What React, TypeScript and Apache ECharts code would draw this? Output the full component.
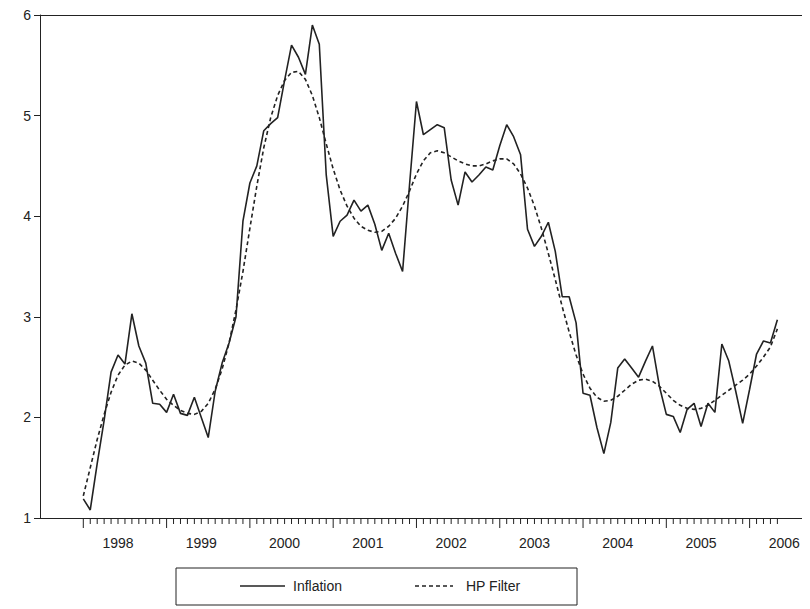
import React, { useEffect, useRef } from "react";
import * as echarts from "echarts";

const years = ["1998", "1999", "2000", "2001", "2002", "2003", "2004", "2005", "2006"];
const inflation = [1.19, 1.08, 1.54, 1.97, 2.45, 2.62, 2.53, 3.03, 2.71, 2.54, 2.14, 2.13, 2.05, 2.23, 2.04, 2.02, 2.2, 2.0, 1.8, 2.26, 2.54, 2.74, 3.0, 3.95, 4.33, 4.5, 4.85, 4.92, 4.98, 5.35, 5.7, 5.58, 5.41, 5.9, 5.71, 4.41, 3.8, 3.95, 4.01, 4.16, 4.05, 4.11, 3.92, 3.66, 3.83, 3.63, 3.45, 4.31, 5.14, 4.81, 4.86, 4.91, 4.88, 4.36, 4.11, 4.44, 4.34, 4.41, 4.49, 4.46, 4.7, 4.91, 4.79, 4.61, 3.87, 3.7, 3.8, 3.94, 3.65, 3.2, 3.2, 2.94, 2.24, 2.22, 1.9, 1.64, 1.95, 2.49, 2.58, 2.49, 2.4, 2.56, 2.71, 2.31, 2.03, 2.01, 1.85, 2.08, 2.14, 1.91, 2.14, 2.05, 2.73, 2.56, 2.26, 1.94, 2.28, 2.63, 2.76, 2.74, 2.97];
const hpFilter = [1.22, 1.5, 1.78, 2.03, 2.25, 2.42, 2.52, 2.56, 2.54, 2.47, 2.37, 2.27, 2.18, 2.12, 2.07, 2.04, 2.03, 2.06, 2.14, 2.28, 2.48, 2.74, 3.07, 3.45, 3.88, 4.3, 4.68, 4.98, 5.2, 5.35, 5.43, 5.44, 5.36, 5.2, 4.98, 4.72, 4.47, 4.26, 4.1, 3.98, 3.9, 3.86, 3.84, 3.85, 3.9, 3.98, 4.1, 4.25, 4.42, 4.55, 4.63, 4.65, 4.63, 4.59, 4.55, 4.52, 4.5, 4.5, 4.52, 4.55, 4.57, 4.57, 4.52, 4.42, 4.28, 4.1, 3.88, 3.63, 3.37, 3.1, 2.85, 2.62, 2.43, 2.29, 2.2, 2.16, 2.17, 2.21, 2.27, 2.33, 2.37, 2.38, 2.36, 2.31, 2.24, 2.17, 2.12, 2.09, 2.08, 2.09, 2.12, 2.17, 2.22, 2.27, 2.32, 2.37, 2.43, 2.51, 2.6, 2.7, 2.88];

const C = "#222";
const FONT = "Arial, Liberation Sans";

export default function App() {
  const ref = useRef<HTMLDivElement>(null);
  useEffect(() => {
    const chart = echarts.init(ref.current!, null, { renderer: "svg" });
    const slots: number[] = [];
    for (let i = 0; i <= 101; i++) slots.push(i);
    chart.setOption({
      animation: false,
      grid: { left: 32, right: -8, top: 4, bottom: 91 },
      xAxis: [
        {
          type: "value", min: -6.24, max: 104.7,
          axisLine: { show: true, onZero: false, lineStyle: { color: C, width: 1 } },
          axisTick: { show: false }, axisLabel: { show: false }, splitLine: { show: false },
        },
        {
          type: "value", position: "top", min: -6.24, max: 104.7,
          axisLine: { show: true, onZero: false, lineStyle: { color: C, width: 1 } },
          axisTick: { show: false }, axisLabel: { show: false }, splitLine: { show: false },
        },
      ],
      yAxis: {
        type: "value", min: 1, max: 6, interval: 1,
        axisLine: { show: true, onZero: false, lineStyle: { color: C, width: 1 } },
        axisTick: { show: true, length: 6, lineStyle: { color: C } },
        axisLabel: { color: C, fontSize: 14, fontFamily: FONT, margin: 9 },
        splitLine: { show: false },
      },
      series: [
        {
          type: "line", name: "Inflation", data: inflation.map((v, i) => [i, v]),
          showSymbol: false, lineStyle: { color: C, width: 1.6 },
        },
        {
          type: "line", name: "HP Filter", data: hpFilter.map((v, i) => [i, v]),
          showSymbol: false, lineStyle: { color: C, width: 1.6, type: [4, 3] },
        },
        {
          type: "custom", data: slots.map((m) => [m]), clip: false, silent: true,
          renderItem: (params: any, api: any) => {
            const i = api.value(0);
            const p = api.coord([i, 1]);
            const major = i % 12 === 0;
            const children: any[] = [];
            if (i < inflation.length) {
              children.push({ type: "line", shape: { x1: p[0], y1: p[1], x2: p[0], y2: p[1] + (major ? 10 : 6) }, style: { stroke: C, lineWidth: 1 } });
            }
            if (i % 12 === 5) {
              children.push({
                type: "text", x: p[0], y: p[1] + 25,
                style: { text: years[Math.floor(i / 12)], fill: C, fontSize: 14, fontFamily: FONT, align: "center", verticalAlign: "middle" },
              });
            }
            return { type: "group", children };
          },
        },
      ],
      graphic: [
        { type: "rect", shape: { x: 168, y: 560, width: 401, height: 37 }, style: { fill: "#fff", stroke: C, lineWidth: 1 } },
        { type: "line", shape: { x1: 232, y1: 578, x2: 277, y2: 578 }, style: { stroke: C, lineWidth: 1.6 } },
        { type: "text", x: 285, y: 578, style: { text: "Inflation", fill: C, fontSize: 14, fontFamily: FONT, verticalAlign: "middle" } },
        { type: "line", shape: { x1: 407, y1: 578, x2: 445, y2: 578 }, style: { stroke: C, lineWidth: 1.6, lineDash: [4, 3] } },
        { type: "text", x: 458, y: 578, style: { text: "HP Filter", fill: C, fontSize: 14, fontFamily: FONT, verticalAlign: "middle" } },
      ],
    });
    return () => chart.dispose();
  }, []);
  return <div ref={ref} style={{ width: 802, height: 601 }} />;
}
